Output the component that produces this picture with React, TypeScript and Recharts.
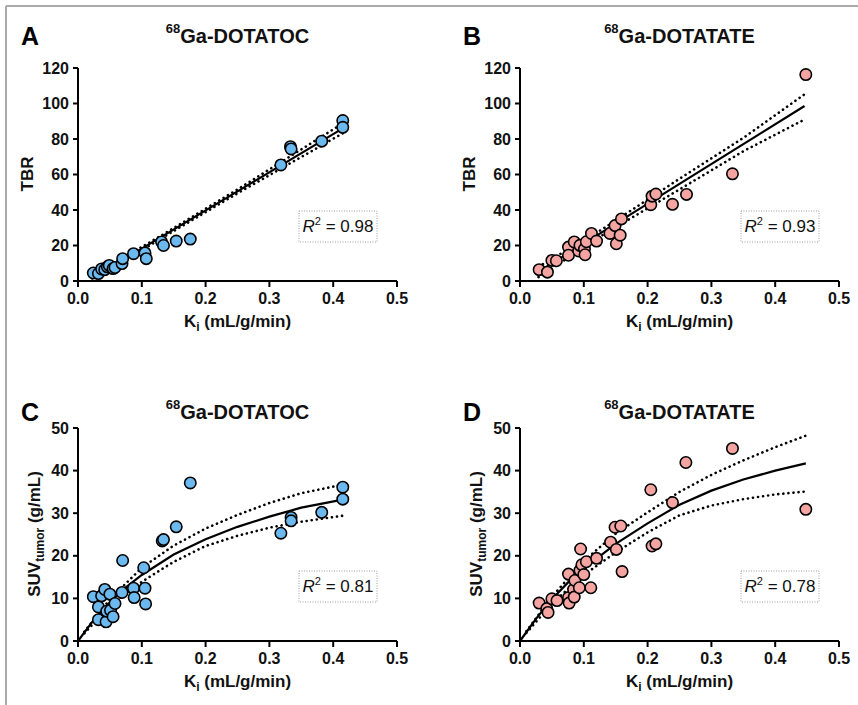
import React from 'react';
import { ScatterChart, Scatter, XAxis, YAxis } from 'recharts';

// ---- data ----
const xTicks = [0, 0.1, 0.2, 0.3, 0.4, 0.5];
const tbrTicks = [0, 20, 40, 60, 80, 100, 120];
const suvTicks = [0, 10, 20, 30, 40, 50];

// A: 68Ga-DOTATOC, TBR vs Ki
const kiA = [0.024, 0.032, 0.037, 0.042, 0.046, 0.049, 0.055, 0.058, 0.069, 0.07, 0.087, 0.105, 0.107, 0.131, 0.134, 0.154, 0.176, 0.318, 0.333, 0.334, 0.382, 0.415, 0.415];
const tbrA = [4.5, 4.2, 6.8, 6.4, 8.0, 8.8, 7.0, 7.6, 9.8, 12.6, 15.4, 15.8, 12.6, 22.0, 20.0, 22.5, 23.6, 65.4, 75.7, 74.4, 78.8, 90.4, 86.6];
const fitA = [{ x: 0.022, y: 1.5 }, { x: 0.13, y: 24.7 }, { x: 0.25, y: 50.5 }, { x: 0.415, y: 86.0 }];
const upperA = [{ x: 0.022, y: 2.8 }, { x: 0.13, y: 25.5 }, { x: 0.25, y: 51.6 }, { x: 0.415, y: 88.8 }];
const lowerA = [{ x: 0.022, y: 0.2 }, { x: 0.13, y: 23.9 }, { x: 0.25, y: 49.4 }, { x: 0.415, y: 83.2 }];

// B: 68Ga-DOTATATE, TBR vs Ki
const kiB = [0.03, 0.043, 0.05, 0.057, 0.076, 0.076, 0.085, 0.092, 0.094, 0.101, 0.102, 0.104, 0.112, 0.12, 0.141, 0.149, 0.151, 0.157, 0.159, 0.205, 0.207, 0.213, 0.239, 0.261, 0.333, 0.448];
const tbrB = [6.4, 5.0, 11.6, 11.4, 19.1, 14.5, 22.0, 16.9, 20.1, 18.0, 14.8, 22.1, 26.8, 22.5, 26.8, 31.2, 21.0, 25.8, 35.0, 43.0, 47.8, 49.0, 43.2, 48.8, 60.4, 116.3];
const fitB = [{ x: 0.029, y: 5.2 }, { x: 0.13, y: 27.8 }, { x: 0.25, y: 54.7 }, { x: 0.446, y: 98.6 }];
const upperB = [{ x: 0.029, y: 8.0 }, { x: 0.13, y: 29.4 }, { x: 0.25, y: 57.6 }, { x: 0.35, y: 80.6 }, { x: 0.446, y: 105.2 }];
const lowerB = [{ x: 0.029, y: 2.2 }, { x: 0.13, y: 26.0 }, { x: 0.25, y: 51.6 }, { x: 0.35, y: 73.1 }, { x: 0.446, y: 91.0 }];

// C: 68Ga-DOTATOC, SUV tumor vs Ki
const kiC = [0.024, 0.032, 0.032, 0.037, 0.042, 0.044, 0.045, 0.05, 0.051, 0.055, 0.058, 0.069, 0.07, 0.087, 0.088, 0.103, 0.105, 0.106, 0.132, 0.134, 0.154, 0.176, 0.318, 0.334, 0.334, 0.382, 0.415, 0.415];
const suvC = [10.4, 8.0, 5.0, 10.6, 12.1, 4.5, 7.0, 11.0, 7.2, 5.7, 8.8, 11.4, 18.9, 12.4, 10.2, 17.2, 12.4, 8.7, 23.5, 23.8, 26.8, 37.1, 25.3, 29.0, 28.2, 30.2, 36.1, 33.3];
const fitC = [{ x: 0, y: 0 }, { x: 0.025, y: 5.0 }, { x: 0.05, y: 9.1 }, { x: 0.075, y: 12.6 }, { x: 0.1, y: 15.5 }, { x: 0.15, y: 20.3 }, { x: 0.2, y: 23.9 }, { x: 0.25, y: 26.8 }, { x: 0.3, y: 29.2 }, { x: 0.35, y: 31.3 }, { x: 0.415, y: 33.2 }];
const upperC = [{ x: 0.01, y: 2.2 }, { x: 0.05, y: 9.8 }, { x: 0.1, y: 17.2 }, { x: 0.15, y: 22.4 }, { x: 0.2, y: 26.4 }, { x: 0.25, y: 29.6 }, { x: 0.3, y: 32.4 }, { x: 0.35, y: 34.7 }, { x: 0.415, y: 36.7 }];
const lowerC = [{ x: 0.01, y: 1.8 }, { x: 0.05, y: 8.3 }, { x: 0.1, y: 13.9 }, { x: 0.15, y: 18.6 }, { x: 0.2, y: 22.3 }, { x: 0.25, y: 24.7 }, { x: 0.3, y: 26.6 }, { x: 0.35, y: 28.0 }, { x: 0.415, y: 29.4 }];

// D: 68Ga-DOTATATE, SUV tumor vs Ki
const kiD = [0.03, 0.042, 0.044, 0.05, 0.058, 0.076, 0.076, 0.077, 0.084, 0.085, 0.086, 0.093, 0.094, 0.095, 0.097, 0.1, 0.104, 0.111, 0.12, 0.142, 0.149, 0.151, 0.158, 0.16, 0.205, 0.207, 0.213, 0.239, 0.26, 0.333, 0.448];
const suvD = [8.9, 7.6, 6.7, 9.9, 9.5, 15.7, 10.2, 8.9, 12.1, 10.3, 14.2, 12.5, 16.6, 21.6, 17.9, 15.6, 18.6, 12.5, 19.4, 23.2, 26.7, 21.5, 27.0, 16.3, 35.5, 22.3, 22.8, 32.5, 41.9, 45.2, 30.9];
const fitD = [{ x: 0, y: 0 }, { x: 0.025, y: 5.2 }, { x: 0.05, y: 9.8 }, { x: 0.075, y: 13.7 }, { x: 0.1, y: 17.0 }, { x: 0.15, y: 22.8 }, { x: 0.2, y: 27.6 }, { x: 0.25, y: 32.0 }, { x: 0.3, y: 35.3 }, { x: 0.35, y: 37.9 }, { x: 0.4, y: 40.0 }, { x: 0.448, y: 41.7 }];
const upperD = [{ x: 0.01, y: 2.3 }, { x: 0.05, y: 10.4 }, { x: 0.1, y: 18.8 }, { x: 0.15, y: 25.2 }, { x: 0.2, y: 30.2 }, { x: 0.25, y: 35.0 }, { x: 0.3, y: 39.0 }, { x: 0.35, y: 42.4 }, { x: 0.4, y: 45.5 }, { x: 0.448, y: 48.2 }];
const lowerD = [{ x: 0.01, y: 1.9 }, { x: 0.05, y: 8.8 }, { x: 0.1, y: 15.5 }, { x: 0.15, y: 20.8 }, { x: 0.2, y: 25.5 }, { x: 0.25, y: 29.5 }, { x: 0.3, y: 31.8 }, { x: 0.35, y: 33.3 }, { x: 0.4, y: 34.4 }, { x: 0.448, y: 35.1 }];

const FONT = "'Liberation Sans', Arial, Helvetica, sans-serif";
const BLUE = '#6cb9ef';
const PINK = '#f4a5a2';
const PLOT_W = 319;
const PLOT_H = 213;

const toPoints = (xs: number[], ys: number[]) => xs.map((x, i) => ({ x, y: ys[i] }));

const dot = (fill: string) => (p: any) => (
  <circle cx={p.cx} cy={p.cy} r={5.7} fill={fill} stroke="#000" strokeWidth={1.6} />
);
const noShape = () => <g />;

type PanelProps = {
  left: number;
  top: number;
  yMax: number;
  yTicks: number[];
  points: { x: number; y: number }[];
  fit: { x: number; y: number }[];
  upper: { x: number; y: number }[];
  lower: { x: number; y: number }[];
  fill: string;
};

const Panel: React.FC<PanelProps> = ({ left, top, yMax, yTicks, points, fit, upper, lower, fill }) => {
  const tickStyle = { fill: '#111', fontSize: 16, fontWeight: 'bold', fontFamily: FONT };
  const dotted = { stroke: '#000', strokeWidth: 2.6, strokeDasharray: '0.1 5', strokeLinecap: 'round' };
  return (
    <div style={{ position: 'absolute', left: left - 70, top: top - 20 }}>
      <ScatterChart width={PLOT_W + 85} height={PLOT_H + 80} margin={{ top: 20, right: 15, bottom: 10, left: 10 }}>
        <XAxis
          type="number"
          dataKey="x"
          domain={[0, 0.5]}
          ticks={xTicks}
          tickFormatter={(v: number) => v.toFixed(1)}
          height={50}
          axisLine={{ stroke: '#000', strokeWidth: 2 }}
          tickLine={{ stroke: '#000', strokeWidth: 2 }}
          tickSize={6}
          tickMargin={6}
          tick={tickStyle}
          interval={0}
        />
        <YAxis
          type="number"
          dataKey="y"
          domain={[0, yMax]}
          ticks={yTicks}
          width={60}
          axisLine={{ stroke: '#000', strokeWidth: 2 }}
          tickLine={{ stroke: '#000', strokeWidth: 2 }}
          tickSize={5}
          tickMargin={4}
          tick={tickStyle}
          interval={0}
        />
        <Scatter data={upper} line={dotted} shape={noShape} isAnimationActive={false} />
        <Scatter data={lower} line={dotted} shape={noShape} isAnimationActive={false} />
        <Scatter data={fit} line={{ stroke: '#000', strokeWidth: 2.2 }} shape={noShape} isAnimationActive={false} />
        <Scatter data={points} shape={dot(fill)} isAnimationActive={false} />
      </ScatterChart>
    </div>
  );
};

const panels = [
  { key: 'A', left: 78, top: 67.5, yMax: 120, yTicks: tbrTicks, points: toPoints(kiA, tbrA), fit: fitA, upper: upperA, lower: lowerA, fill: BLUE, title: 'Ga-DOTATOC', yLabel: 'TBR', r2: '0.98' },
  { key: 'B', left: 520, top: 67.5, yMax: 120, yTicks: tbrTicks, points: toPoints(kiB, tbrB), fit: fitB, upper: upperB, lower: lowerB, fill: PINK, title: 'Ga-DOTATATE', yLabel: 'TBR', r2: '0.93' },
  { key: 'C', left: 78, top: 427.5, yMax: 50, yTicks: suvTicks, points: toPoints(kiC, suvC), fit: fitC, upper: upperC, lower: lowerC, fill: BLUE, title: 'Ga-DOTATOC', yLabel: 'SUV', r2: '0.81' },
  { key: 'D', left: 520, top: 427.5, yMax: 50, yTicks: suvTicks, points: toPoints(kiD, suvD), fit: fitD, upper: upperD, lower: lowerD, fill: PINK, title: 'Ga-DOTATATE', yLabel: 'SUV', r2: '0.78' },
];

const Labels: React.FC = () => (
  <svg width={858} height={705} style={{ position: 'absolute', left: 0, top: 0, pointerEvents: 'none' }} fontFamily={FONT}>
    {/* frame */}
    <line x1={6} y1={6} x2={858} y2={6} stroke="#aaa" strokeWidth={2} />
    <line x1={6} y1={6} x2={6} y2={705} stroke="#aaa" strokeWidth={2} />
    {panels.map((p) => {
      const cx = p.left + PLOT_W / 2;
      const cy = p.top + PLOT_H / 2;
      const bottom = p.top + PLOT_H;
      const titleY = p.top < 100 ? 43.3 : 419;
      const boxX = p.left + 221;
      const boxY = p.top + 143.5;
      const yLabX = p.yLabel === 'TBR' ? p.left - 44.7 : p.left - 38;
      return (
        <g key={p.key}>
          <text x={p.left - 57} y={titleY + 1.5} fontSize={25} fontWeight="bold" fill="#000">{p.key}</text>
          <text x={cx} y={titleY} textAnchor="middle" fontSize={20} fontWeight="bold" fill="#111">
            <tspan fontSize={13} dy={-10}>68</tspan>
            <tspan dy={10}>{p.title}</tspan>
          </text>
          <text x={cx} y={bottom + 46.5} textAnchor="middle" fontSize={17} fontWeight="bold" fill="#111" style={{ whiteSpace: 'pre' }}>
            K<tspan fontSize={12} dy={4}>i</tspan>
            <tspan dy={-4}> (mL/g/min)</tspan>
          </text>
          <text x={yLabX} y={cy} transform={`rotate(-90, ${yLabX}, ${cy})`} textAnchor="middle" fontSize={17} fontWeight="bold" fill="#111" style={{ whiteSpace: 'pre' }}>
            {p.yLabel === 'TBR' ? (
              'TBR'
            ) : (
              <>
                SUV<tspan fontSize={12} dy={4}>tumor</tspan>
                <tspan dy={-4}> (g/mL)</tspan>
              </>
            )}
          </text>
          <rect x={boxX} y={boxY} width={78} height={31} fill="#fff" stroke="#999" strokeWidth={1} strokeDasharray="1 1.5" />
          <text x={boxX + 39} y={boxY + 21} textAnchor="middle" fontSize={17} fill="#111" style={{ whiteSpace: 'pre' }}>
            <tspan fontStyle="italic">R</tspan>
            <tspan fontSize={11} dy={-7}>2</tspan>
            <tspan dy={7}> = {p.r2}</tspan>
          </text>
        </g>
      );
    })}
  </svg>
);

export default function App() {
  return (
    <div style={{ position: 'relative', width: 858, height: 705, background: '#fff', overflow: 'hidden' }}>
      <style>{'body{margin:0}'}</style>
      {panels.map((p) => (
        <Panel
          key={p.key}
          left={p.left}
          top={p.top}
          yMax={p.yMax}
          yTicks={p.yTicks}
          points={p.points}
          fit={p.fit}
          upper={p.upper}
          lower={p.lower}
          fill={p.fill}
        />
      ))}
      <Labels />
    </div>
  );
}
